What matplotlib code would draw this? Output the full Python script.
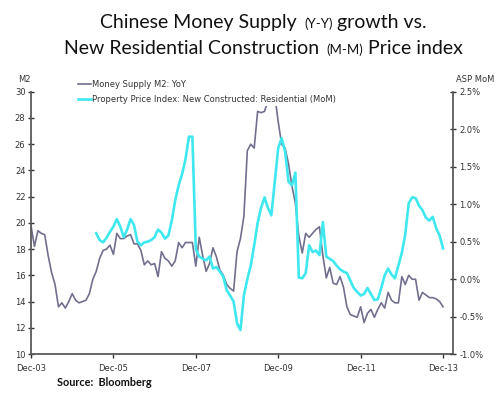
"""
China M2 growth vs. new residential price index (MoM)
"""
import numpy as np
import matplotlib
matplotlib.use("Agg")
import matplotlib.pyplot as plt
from matplotlib.ticker import FuncFormatter

# monthly M2 YoY (%), Dec-03 .. Dec-13
m2_yoy = [
    19.8,
    18.2, 19.4, 19.2, 19.1, 17.5, 16.2, 15.3, 13.6, 13.9, 13.5, 14.0, 14.6,   # 2004
    14.1, 13.9, 14.0, 14.1, 14.6, 15.7, 16.3, 17.3, 17.9, 18.0, 18.3, 17.6,   # 2005
    19.2, 18.8, 18.8, 19.0, 19.1, 18.4, 18.4, 17.9, 16.8, 17.1, 16.8, 16.9,   # 2006
    15.9, 17.8, 17.3, 17.1, 16.7, 17.1, 18.5, 18.1, 18.5, 18.5, 18.5, 16.7,   # 2007
    18.9, 17.5, 16.3, 16.9, 18.1, 17.4, 16.4, 16.0, 15.3, 15.0, 14.8, 17.8,   # 2008
    18.8, 20.5, 25.5, 26.0, 25.7, 28.5, 28.4, 28.5, 29.3, 29.4, 29.7, 27.7,   # 2009
    26.0, 25.7, 24.5, 22.8, 21.5, 19.0, 17.7, 19.2, 18.9, 19.2, 19.5, 19.7,   # 2010
    17.5, 15.8, 16.6, 15.4, 15.3, 15.9, 15.1, 13.6, 13.0, 12.9, 12.8, 13.6,   # 2011
    12.4, 13.1, 13.4, 12.8, 13.4, 13.9, 13.5, 14.7, 14.1, 13.9, 13.9, 15.9,   # 2012
    15.3, 16.0, 15.7, 15.7, 14.1, 14.7, 14.5, 14.3, 14.3, 14.2, 14.0, 13.6,   # 2013
]

# monthly new residential price index MoM (%), Jul-05 .. Dec-13
prop_start = 19  # months after Dec-03
prop_mom = [
    0.61, 0.52, 0.49, 0.55, 0.63, 0.70, 0.80, 0.70, 0.56, 0.66, 0.80, 0.72,
    0.50, 0.45, 0.49, 0.50, 0.52, 0.56, 0.66, 0.62, 0.54, 0.58, 0.78, 1.05,
    1.25, 1.40, 1.60, 1.90, 1.90, 0.40, 0.30, 0.27, 0.25, 0.30, 0.14, 0.16,
    0.10, 0.03, -0.15, -0.22, -0.30, -0.59, -0.68, -0.22, 0.00, 0.18, 0.45, 0.75,
    0.95, 1.09, 0.95, 0.85, 1.30, 1.75, 1.88, 1.70, 1.30, 1.25, 1.42, 0.02,
    0.01, 0.08, 0.45, 0.36, 0.38, 0.32, 0.76, 0.30, 0.27, 0.24, 0.18, 0.13,
    0.10, 0.08, -0.02, -0.12, -0.17, -0.22, -0.20, -0.12, -0.20, -0.28, -0.27, -0.12,
    0.05, 0.14, 0.06, 0.01, 0.18, 0.35, 0.60, 1.01, 1.09, 1.08, 0.98, 0.92,
    0.82, 0.78, 0.83, 0.68, 0.58, 0.41,
]

x_tick_labels = ["Dec-03", "Dec-05", "Dec-07", "Dec-09", "Dec-11", "Dec-13"]
left_ticks = [10, 12, 14, 16, 18, 20, 22, 24, 26, 28, 30]
right_ticks = [-1.0, -0.5, 0.0, 0.5, 1.0, 1.5, 2.0, 2.5]

M2_COLOR = "#716f8e"
PROP_COLOR = "#3fe8ef"
AXIS_COLOR = "#5a5a5a"
TEXT_COLOR = "#333333"

W, H = 494, 394
fig = plt.figure(figsize=(W / 100, H / 100), dpi=100)
ax = fig.add_axes([31 / W, 1 - 354 / H, (453 - 31) / W, (354 - 91.7) / H])
ax2 = ax.twinx()

m2_x = np.arange(len(m2_yoy))
prop_x = np.arange(prop_start, prop_start + len(prop_mom))

line_m2, = ax.plot(m2_x, m2_yoy, color=M2_COLOR, lw=1.2, label="Money Supply M2: YoY")
line_prop, = ax2.plot(prop_x, prop_mom, color=PROP_COLOR, lw=1.9,
                      label="Property Price Index: New Constructed: Residential (MoM)")

ax.set_xlim(0, 122.9)
ax.set_ylim(10, 30)
ax2.set_ylim(-1.0, 2.5)

ax.set_xticks(np.arange(0, 121, 24))
ax.set_xticklabels(x_tick_labels)
ax.set_yticks(left_ticks)
ax2.set_yticks(right_ticks)
ax2.yaxis.set_major_formatter(FuncFormatter(lambda v, p: "%.1f%%" % v))

for a in (ax, ax2):
    a.spines["top"].set_visible(False)
    for s in ("left", "right", "bottom"):
        a.spines[s].set_color(AXIS_COLOR)
        a.spines[s].set_linewidth(1.3)
    a.tick_params(labelsize=6, colors=TEXT_COLOR, width=1, length=3)
ax.spines["right"].set_visible(False)
ax2.spines["left"].set_visible(False)
ax2.spines["bottom"].set_visible(False)
ax.tick_params(axis="y", direction="inout", length=4, pad=2)
ax.tick_params(axis="x", direction="out", length=3, pad=4)
ax2.tick_params(axis="y", direction="inout", length=5, pad=2)

fig.text(18 / W, 1 - 79 / H, "M2", fontsize=6, color=TEXT_COLOR, va="center", ha="left")
fig.text(475 / W, 1 - 79 / H, "ASP MoM", fontsize=6, color=TEXT_COLOR, va="center", ha="center")

leg = ax2.legend(handles=[line_m2, line_prop], loc="upper left",
                 bbox_to_anchor=(71 / W, 1 - 73 / H), bbox_transform=fig.transFigure,
                 fontsize=6, frameon=True, framealpha=1, edgecolor="none",
                 handlelength=1.6, handletextpad=0.15, borderpad=0.3, labelspacing=0.75)
for t in leg.get_texts():
    t.set_color(TEXT_COLOR)

# title made of pieces with two font sizes
renderer = fig.canvas.get_renderer()
title_font = "Lato"


def title_line(pieces, baseline_px, center_px=263):
    texts = []
    widths = []
    for s, size, gap in pieces:
        t = fig.text(0, 1 - baseline_px / H, s, fontsize=size, family=title_font,
                     color="#111111", va="baseline", ha="left")
        texts.append((t, gap))
        widths.append(t.get_window_extent(renderer).width + gap)
    total = sum(widths)
    x = center_px - total / 2
    for (t, gap), w in zip(texts, widths):
        t.set_x(x / W)
        x += w


title_line([("Chinese Money Supply", 14, 8), ("(Y-Y)", 9.5, 4), ("growth vs.", 14, 0)], 28)
title_line([("New Residential Construction", 14, 8), ("(M-M)", 9.5, 4), ("Price index", 14, 0)], 54)

fig.text(57 / W, 1 - 383 / H, "Source:  Bloomberg", fontsize=7.8, family=title_font,
         fontweight="bold", color="#111111", va="center", ha="left")

fig.savefig("out.png", dpi=100, facecolor="white")
